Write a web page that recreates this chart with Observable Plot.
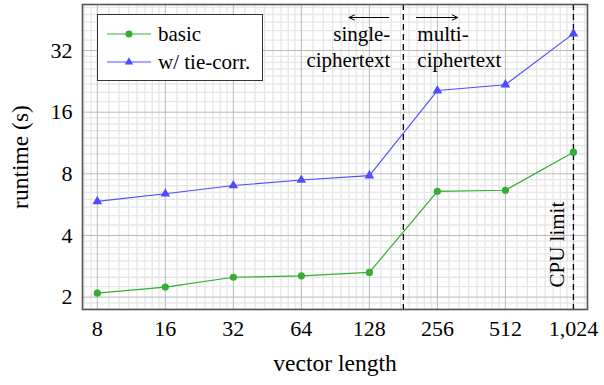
<!DOCTYPE html>
<html>
<head>
<meta charset="utf-8">
<script src="https://cdn.jsdelivr.net/npm/d3@7"></script>
<script src="https://cdn.jsdelivr.net/npm/@observablehq/plot@0.6"></script>
<style>
  html, body { margin: 0; padding: 0; background: #fff; }
  #chart { position: relative; width: 604px; height: 385px; }
  #legend { position: absolute; left: 97px; top: 14px; width: 166px; height: 67px;
    border: 1.3px solid #333; background: #fff; font-family: "Liberation Serif", serif; font-size: 21px; box-sizing: border-box; }
  #legend .row { position: absolute; left: 0; height: 24px; display: flex; align-items: center; }
  #legend svg { margin-left: 9px; margin-right: 7px; }
</style>
</head>
<body>
<div id="chart"></div>
<script>
const vectorLength = [8, 16, 32, 64, 128, 256, 512, 1024];
const basic = [2.09, 2.24, 2.50, 2.54, 2.64, 6.57, 6.65, 10.2];
const tieCorr = [5.87, 6.39, 7.01, 7.46, 7.84, 20.4, 21.8, 38.7];
const xTicks = [8, 16, 32, 64, 128, 256, 512, 1024];
const yTicks = [2, 4, 8, 16, 32];
const boundary = 181; // between single- and multi-ciphertext
const cpuLimit = 1024;
const arrowSpans = [[156, 104], [207, 315]]; // annotation arrows (vector length units)
const seriesNames = ["basic", "w/ tie-corr."];
const seriesColors = ["#33ad33", "#4d4dff"];

const xDomain = [6.88, 1182];
const yDomain = [1.74, 53.7];

// minor grid: eighths of each doubling
function minors(majors, domain) {
  const out = [];
  const lo = majors[0] / 2, hi = majors[majors.length - 1] * 2;
  for (let m = lo; m < hi; m *= 2) for (let i = 1; i < 8; i++) {
    const v = m * (1 + i / 8);
    if (v > domain[0] && v < domain[1]) out.push(v);
  }
  return out;
}
const xMinor = minors(xTicks, xDomain);
const yMinor = minors(yTicks, yDomain);

const dBasic = vectorLength.map((v, i) => ({x: v, y: basic[i]}));
const dTie = vectorLength.map((v, i) => ({x: v, y: tieCorr[i]}));
const arrows = arrowSpans.map(([a, b]) => ({x1: a, x2: b, y: yDomain[1]}));

const font = "'Liberation Serif', serif";
const fmt = d3.format(",");

const plot = Plot.plot({
  width: 604,
  height: 385,
  marginLeft: 82,
  marginRight: 17,
  marginTop: 4,
  marginBottom: 76,
  style: {fontFamily: font, fontSize: "22px", color: "#000", background: "#fff"},
  x: {type: "log", base: 2, domain: xDomain},
  y: {type: "log", base: 2, domain: yDomain},
  marks: [
    Plot.ruleX(xMinor, {stroke: "#e6e6e6", strokeWidth: 1.3}),
    Plot.ruleY(yMinor, {stroke: "#e6e6e6", strokeWidth: 1.3}),
    Plot.ruleX(xTicks, {stroke: "#b9b9b9", strokeWidth: 1}),
    Plot.ruleY(yTicks, {stroke: "#b9b9b9", strokeWidth: 1}),
    Plot.axisX({ticks: xTicks, tickFormat: fmt, tickSize: 0, tickPadding: 11, label: null, fontSize: 22, fontFamily: font}),
    Plot.axisY({ticks: yTicks, tickFormat: fmt, tickSize: 0, tickPadding: 10, label: null, fontSize: 22, fontFamily: font}),
    Plot.ruleX([boundary, cpuLimit], {stroke: "#000", strokeWidth: 1.3, strokeDasharray: "6,4"}),
    Plot.line(dBasic, {x: "x", y: "y", stroke: seriesColors[0], strokeWidth: 1.2}),
    Plot.line(dTie, {x: "x", y: "y", stroke: seriesColors[1], strokeWidth: 1.1}),
    Plot.dot(dBasic, {x: "x", y: "y", fill: seriesColors[0], r: 3.6, symbol: "circle"}),
    Plot.dot(dTie, {x: "x", y: "y", fill: seriesColors[1], r: 3.6, symbol: "triangle"}),
    Plot.text([boundary], {x: d => d, frameAnchor: "top", text: () => "single-\nciphertext", textAnchor: "end", lineAnchor: "top", lineHeight: 1.24, dx: -13, dy: 18, fontSize: 21, fontFamily: font}),
    Plot.text([boundary], {x: d => d, frameAnchor: "top", text: () => "multi-\nciphertext", textAnchor: "start", lineAnchor: "top", lineHeight: 1.24, dx: 14, dy: 18, fontSize: 21, fontFamily: font}),
    Plot.arrow(arrows, {x1: "x1", x2: "x2", y1: "y", y2: "y", dy: 13, stroke: "#000", strokeWidth: 1, headLength: 9, headAngle: 50, bend: 0}),
    Plot.text([cpuLimit], {x: d => d, frameAnchor: "bottom", text: () => "CPU limit", rotate: -90, textAnchor: "start", lineAnchor: "middle", dx: -16, dy: -22, fontSize: 21, fontFamily: font}),
    Plot.text(["runtime (s)"], {frameAnchor: "left", text: d => d, rotate: -90, textAnchor: "middle", dx: -62, fontSize: 23.5, fontFamily: font}),
    Plot.text(["vector length"], {frameAnchor: "bottom", text: d => d, textAnchor: "middle", dy: 61, fontSize: 23.5, fontFamily: font}),
    Plot.frame({stroke: "#555", strokeWidth: 1.6})
  ]
});
const chart = document.getElementById("chart");
chart.appendChild(plot);

// legend overlay
const legend = document.createElement("div");
legend.id = "legend";
seriesNames.forEach((name, i) => {
  const row = document.createElement("div");
  row.className = "row";
  row.style.top = (i === 0 ? 7 : 35) + "px";
  const s = d3.create("svg").attr("width", 44).attr("height", 12);
  s.append("line").attr("x1", 0).attr("x2", 44).attr("y1", 6).attr("y2", 6)
    .attr("stroke", seriesColors[i]).attr("stroke-opacity", 0.65).attr("stroke-width", 1.3);
  s.append("path").attr("transform", "translate(22,6)")
    .attr("d", d3.symbol(i === 0 ? d3.symbolCircle : d3.symbolTriangle, i === 0 ? 38 : 30)())
    .attr("fill", seriesColors[i]);
  row.appendChild(s.node());
  const t = document.createElement("span");
  t.textContent = name;
  row.appendChild(t);
  legend.appendChild(row);
});
chart.appendChild(legend);
</script>
</body>
</html>
